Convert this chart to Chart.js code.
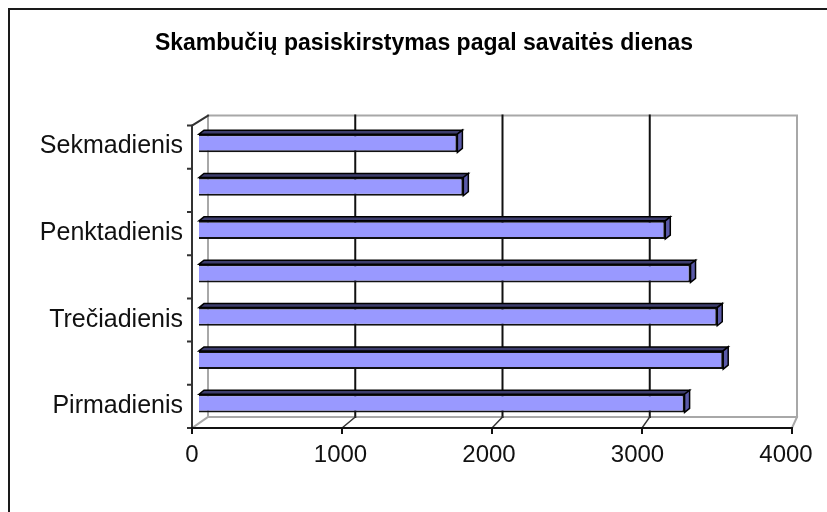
<!DOCTYPE html>
<html>
<head>
<meta charset="utf-8">
<script src="https://cdn.jsdelivr.net/npm/chart.js@4.4.0/dist/chart.umd.min.js"></script>
<style>
  html, body { margin: 0; padding: 0; background: #fff; }
  #wrap { width: 827px; height: 512px; }
</style>
</head>
<body>
<div id="wrap"><canvas id="myChart" width="827" height="512"></canvas></div>
<script>
// dienos nuo pirmadienio iki sekmadienio
const days = ['Pirmadienis', 'Antradienis', 'Trečiadienis', 'Ketvirtadienis', 'Penktadienis', 'Šeštadienis', 'Sekmadienis'];
const calls = [3270, 3530, 3490, 3310, 3140, 1780, 1740];
const xTicks = [0, 1000, 2000, 3000, 4000];
const title = 'Skambučių pasiskirstymas pagal savaitės dienas';

const FONT = "'Liberation Sans', Arial, sans-serif";

// walls, floor, axes and the 3d faces of the bars
const fake3d = {
    id: 'fake3d',
    beforeDraw(chart) {
        const ctx = chart.ctx;
        ctx.save();
        ctx.fillStyle = '#fff';
        ctx.fillRect(0, 0, chart.width, chart.height);
        ctx.strokeStyle = '#1a1a1a';
        ctx.lineWidth = 2;
        ctx.beginPath();
        ctx.moveTo(9, chart.height);
        ctx.lineTo(9, 9);
        ctx.lineTo(chart.width, 9);
        ctx.stroke();
        ctx.restore();
    },
    beforeDatasetsDraw(chart) {
        const ctx = chart.ctx;
        const ca = chart.chartArea;
        const x = chart.scales.x;
        const max = xTicks[xTicks.length - 1];
        const t = v => (x.getPixelForValue(v) - ca.left) / ca.width;

        // front and back frames
        const fl = ca.left - 7, fr = ca.right - 1, ft = ca.top + 4, fb = ca.bottom + 3;
        const bl = ca.left + 9, br = ca.right + 4, bt = ca.top - 6, bb = ca.bottom - 8;
        const front = v => fl + t(v) * (fr - fl);
        const back = v => bl + t(v) * (br - bl);

        ctx.save();
        ctx.lineCap = 'square';

        // back wall and floor edges
        ctx.strokeStyle = '#a8a8a8';
        ctx.lineWidth = 2;
        ctx.beginPath();
        ctx.moveTo(bl, bb);
        ctx.lineTo(bl, bt);
        ctx.lineTo(br, bt);
        ctx.lineTo(br, bb);
        ctx.lineTo(bl, bb);
        ctx.moveTo(front(max), fb);
        ctx.lineTo(br, bb);
        ctx.moveTo(fl, fb);
        ctx.lineTo(bl, bb);
        ctx.stroke();

        // gridlines on the back wall
        ctx.strokeStyle = '#111';
        ctx.lineWidth = 2;
        ctx.beginPath();
        xTicks.forEach(v => {
            if (v === 0 || v === max) return;
            ctx.moveTo(back(v), bt);
            ctx.lineTo(back(v), bb);
        });
        ctx.stroke();

        // floor connectors under gridlines
        ctx.strokeStyle = '#333';
        ctx.lineWidth = 1.5;
        ctx.beginPath();
        xTicks.forEach(v => {
            if (v === 0 || v === max) return;
            ctx.moveTo(front(v), fb);
            ctx.lineTo(back(v), bb);
        });
        ctx.stroke();

        // left wall
        ctx.strokeStyle = '#333';
        ctx.lineWidth = 2;
        ctx.beginPath();
        ctx.moveTo(fl, fb);
        ctx.lineTo(fl, ft);
        ctx.lineTo(bl, bt);
        ctx.stroke();

        // category tick marks
        const n = days.length;
        ctx.beginPath();
        for (let i = 0; i <= n; i++) {
            const y = ft + i * (fb - ft) / n;
            ctx.moveTo(fl - 4, y);
            ctx.lineTo(fl, y);
        }
        ctx.stroke();

        // front value axis
        ctx.strokeStyle = '#111';
        ctx.beginPath();
        ctx.moveTo(fl, fb);
        ctx.lineTo(front(max), fb);
        xTicks.forEach(v => {
            ctx.moveTo(front(v), fb);
            ctx.lineTo(front(v), fb + 5);
        });
        ctx.stroke();
        ctx.restore();
    },
    afterDatasetsDraw(chart) {
        const ctx = chart.ctx;
        const meta = chart.getDatasetMeta(0);
        const dx = 5, dy = 4;
        ctx.save();
        ctx.strokeStyle = '#000';
        ctx.lineWidth = 1.5;
        meta.data.forEach(bar => {
            const p = bar.getProps(['x', 'y', 'base', 'height'], true);
            const top = p.y - p.height / 2;
            const bottom = p.y + p.height / 2;
            // top face
            ctx.fillStyle = '#3c3c6c';
            ctx.beginPath();
            ctx.moveTo(p.base, top);
            ctx.lineTo(p.base + dx, top - dy);
            ctx.lineTo(p.x + dx, top - dy);
            ctx.lineTo(p.x, top);
            ctx.closePath();
            ctx.fill();
            ctx.stroke();
            // right face
            ctx.fillStyle = '#5a5aa8';
            ctx.beginPath();
            ctx.moveTo(p.x, top);
            ctx.lineTo(p.x + dx, top - dy);
            ctx.lineTo(p.x + dx, bottom - dy);
            ctx.lineTo(p.x, bottom);
            ctx.closePath();
            ctx.fill();
            ctx.stroke();
        });
        ctx.restore();
    }
};

const ctx = document.getElementById('myChart').getContext('2d');
const chart = new Chart(ctx, {
    type: 'bar',
    data: {
        labels: days,
        datasets: [{
            label: 'Skambučiai',
            data: calls,
            backgroundColor: '#9999ff',
            borderColor: '#111',
            borderWidth: 2,
            barPercentage: 0.42,
            categoryPercentage: 1
        }]
    },
    options: {
        indexAxis: 'y',
        responsive: false,
        animation: false,
        layout: { padding: { left: 21, right: 0, top: 0, bottom: 0 } },
        plugins: {
            legend: { display: false },
            tooltip: { enabled: false },
            title: {
                display: true,
                text: title,
                color: '#000',
                font: { family: FONT, size: 23, weight: 'bold' },
                padding: { top: 30, bottom: 64 }
            }
        },
        scales: {
            x: {
                min: 0,
                max: 4000,
                grid: { display: false, drawTicks: false },
                border: { display: false },
                ticks: {
                    stepSize: 1000,
                    color: '#111',
                    font: { family: FONT, size: 24 },
                    padding: 16,
                    labelOffset: -7,
                    maxRotation: 0,
                    callback: v => String(v)
                },
                afterFit(s) {
                    s.height = 87;
                    s.paddingLeft = 0;
                    s.paddingRight = 34;
                }
            },
            y: {
                reverse: true,
                grid: { display: false, drawTicks: false },
                border: { display: false },
                ticks: {
                    autoSkip: false,
                    color: '#111',
                    font: { family: FONT, size: 25 },
                    padding: 16,
                    labelOffset: 3,
                    callback(val) { return val % 2 ? '' : days[val]; }
                },
                afterFit(s) { s.width = 178; }
            }
        }
    },
    plugins: [fake3d]
});
</script>
</body>
</html>
